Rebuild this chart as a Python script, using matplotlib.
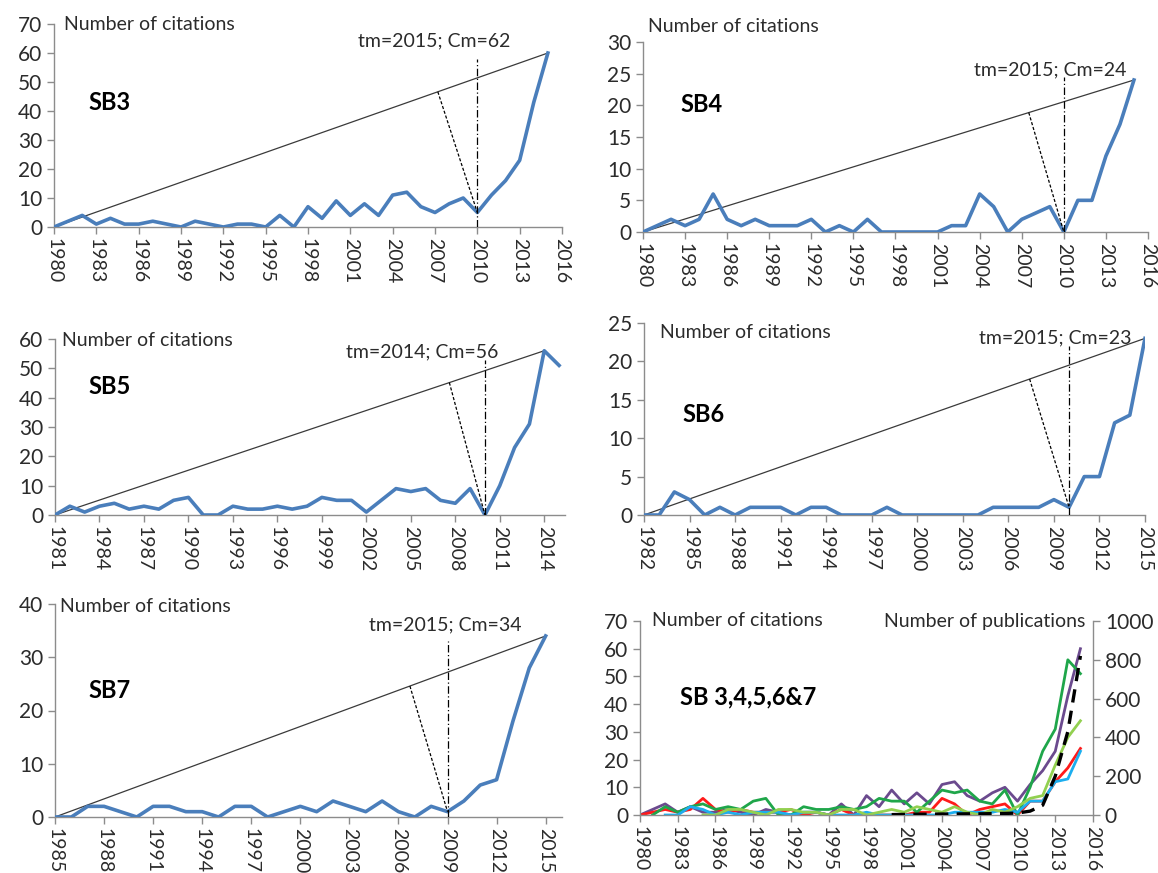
import numpy as np
import matplotlib
matplotlib.use("Agg")
import matplotlib.pyplot as plt

plt.rcParams['font.family'] = ['Lato', 'DejaVu Sans']

# ---------------- data ----------------
sb3_years = list(range(1980, 2016))
sb3_cit = [0, 2, 4, 1, 3, 1, 1, 2, 1, 0,
           2, 1, 0, 1, 1, 0, 4, 0, 7, 3,
           9, 4, 8, 4, 11, 12, 7, 5, 8, 10,
           5, 11, 16, 23, 43, 60]

sb4_years = list(range(1980, 2016))
sb4_cit = [0, 1, 2, 1, 2, 6, 2, 1, 2, 1,
           1, 1, 2, 0, 1, 0, 2, 0, 0, 0,
           0, 0, 1, 1, 6, 4, 0, 2, 3, 4,
           0, 5, 5, 12, 17, 24]

sb5_years = list(range(1981, 2016))
sb5_cit = [0, 3, 1, 3, 4, 2, 3, 2, 5, 6,
           0, 0, 3, 2, 2, 3, 2, 3, 6, 5,
           5, 1, 5, 9, 8, 9, 5, 4, 9, 0,
           10, 23, 31, 56, 51]

sb6_years = list(range(1982, 2016))
sb6_cit = [0, 0, 3, 2, 0, 1, 0, 1, 1, 1,
           0, 1, 1, 0, 0, 0, 1, 0, 0, 0,
           0, 0, 0, 1, 1, 1, 1, 2, 1, 5,
           5, 12, 13, 23]

sb7_years = list(range(1985, 2016))
sb7_cit = [0, 0, 2, 2, 1, 0, 2, 2, 1, 1,
           0, 2, 2, 0, 1, 2, 1, 3, 2, 1,
           3, 1, 0, 2, 1, 3, 6, 7, 18, 28,
           34]

pub_years = list(range(2000, 2016))
pub_counts = [2, 3, 4, 4, 5, 5, 6, 6, 7, 8, 10, 20, 50, 200, 430, 820]

# annotations: label, tm text, minimum year, foot year on diagonal, top of vertical
panel_names = ["SB3", "SB4", "SB5", "SB6", "SB7"]
tm_labels = ["tm=2015; Cm=62", "tm=2015; Cm=24", "tm=2014; Cm=56",
             "tm=2015; Cm=23", "tm=2015; Cm=34"]
min_years = [2010, 2010, 2010, 2010, 2009]
foot_years = [2007.2, 2007.5, 2007.6, 2007.4, 2006.7]
vline_tops = [58, 24.5, 53, 22, 33]
x_ranges = [(1980, 2016), (1980, 2016), (1981, 2015.4), (1982, 2015), (1985, 2016)]
y_maxes = [70, 30, 60, 25, 40]
y_steps = [10, 5, 10, 5, 10]

series = [(sb3_years, sb3_cit), (sb4_years, sb4_cit), (sb5_years, sb5_cit),
          (sb6_years, sb6_cit), (sb7_years, sb7_cit)]
combo_colors = ["#6B4A8E", "#FF1A1A", "#1FA64A", "#1CAEEF", "#92D050"]

# ---------------- layout ----------------
W, H = 1158, 873
fig = plt.figure(figsize=(W / 100, H / 100), dpi=100)


def rect(x0, ytop, x1, ybot):
    return [x0 / W, 1 - ybot / H, (x1 - x0) / W, (ybot - ytop) / H]


positions = [rect(54, 24, 562, 227), rect(643, 42, 1148, 232),
             rect(55, 339, 565, 515), rect(644, 323, 1145, 515),
             rect(55, 604, 562, 817)]
noc_pos = [(64, 24), (648, 27), (62, 341), (660, 333), (60, 606)]
sb_pos = [(88, 103), (680, 105), (88, 387), (682, 415), (88, 690)]
tm_pos = [(434, 41), (1050, 70), (422, 352), (1055, 338), (445, 625)]

AX_COL = "#8C8C8C"
TXT_COL = "#2B2B2B"
FS = 14
YFS = 15
XFS = 14


def style_axes(ax):
    for s in ["top", "right"]:
        ax.spines[s].set_visible(False)
    for s in ["left", "bottom"]:
        ax.spines[s].set_color(AX_COL)
        ax.spines[s].set_linewidth(1.0)
    ax.tick_params(axis="both", colors=AX_COL, labelcolor=TXT_COL,
                   length=5, width=1.0, direction="out")
    ax.tick_params(axis="y", labelsize=YFS)
    ax.tick_params(axis="x", labelsize=XFS, pad=3)


def ftext(x, y, s, **kw):
    fig.text(x / W, 1 - y / H, s, va="center", **kw)


for i, (yrs, vals) in enumerate(series):
    ax = fig.add_axes(positions[i])
    style_axes(ax)
    x0, x1 = x_ranges[i]
    ax.set_xlim(x0, x1)
    ax.set_ylim(0, y_maxes[i])
    ax.set_yticks(np.arange(0, y_maxes[i] + 1, y_steps[i]))
    xt = np.arange(yrs[0], x1 + 0.01, 3).astype(int)
    ax.set_xticks(xt)
    ax.set_xticklabels([str(v) for v in xt], rotation=-90, ha="center", va="top")

    ax.plot(yrs, vals, color="#4A7EBB", lw=2.6, solid_joinstyle="round", zorder=3)
    peak_i = int(np.argmax(vals))
    tm, cm = yrs[peak_i], vals[peak_i]
    ax.plot([yrs[0], tm], [0, cm], color="#3A3A3A", lw=0.9, zorder=2)
    my = min_years[i]
    mv = vals[yrs.index(my)]
    fy = foot_years[i]
    fv = np.interp(fy, [yrs[0], tm], [0, cm])
    ax.plot([fy, my], [fv, mv], color="black", lw=0.9, ls=(0, (2.5, 1.5)), zorder=4)
    ax.plot([my, my], [0, vline_tops[i]], color="black", lw=0.9,
            ls=(0, (6, 2, 1, 2)), zorder=4)

    ftext(*noc_pos[i], "Number of citations", color=TXT_COL, fontsize=FS, ha="left")
    ftext(*sb_pos[i], panel_names[i], color="black", fontsize=17,
          fontweight="bold", ha="left")
    ftext(*tm_pos[i], tm_labels[i], color=TXT_COL, fontsize=FS, ha="center")

# ---------------- combined panel ----------------
axc = fig.add_axes(rect(640, 621, 1093, 815))
style_axes(axc)
axc.set_xlim(1980, 2016)
axc.set_ylim(0, 70)
axc.set_yticks(np.arange(0, 71, 10))
xt = np.arange(1980, 2017, 3)
axc.set_xticks(xt)
axc.set_xticklabels([str(v) for v in xt], rotation=-90, ha="center", va="top")
for (yrs, vals), col in zip(series, combo_colors):
    axc.plot(yrs, vals, color=col, lw=2.0, solid_joinstyle="round")

axr = axc.twinx()
for s in ["top", "left", "bottom"]:
    axr.spines[s].set_visible(False)
axr.spines["right"].set_color(AX_COL)
axr.spines["right"].set_linewidth(1.0)
axr.tick_params(axis="y", colors=AX_COL, labelcolor=TXT_COL, labelsize=YFS,
                length=5, width=1.0, direction="out")
axr.set_ylim(0, 1000)
axr.set_yticks(np.arange(0, 1001, 200))
axr.plot(pub_years, pub_counts, color="black", lw=2.4, ls=(0, (4, 2.5)))

ftext(652, 621, "Number of citations", color=TXT_COL, fontsize=FS, ha="left")
ftext(1085, 621, "Number of publications", color=TXT_COL, fontsize=FS, ha="right")
ftext(680, 697, "SB 3,4,5,6&7", color="black", fontsize=17, fontweight="bold", ha="left")

fig.savefig("out.png", dpi=100)
